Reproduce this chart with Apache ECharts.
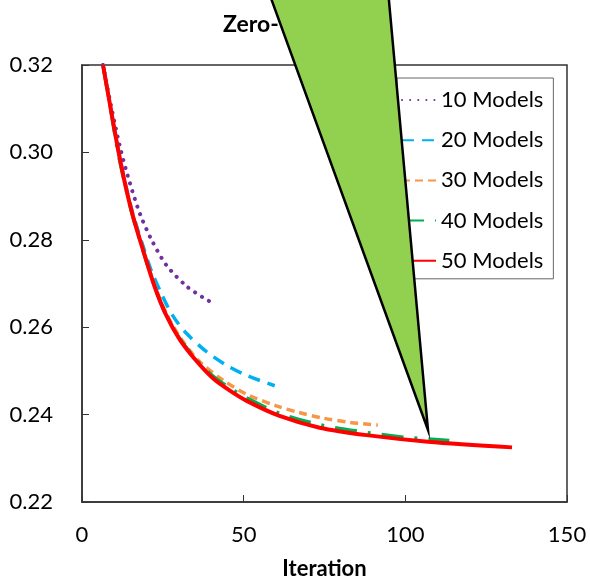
<!DOCTYPE html>
<html lang="en">
<head>
    <meta charset="UTF-8">
    <title>Zero-</title>
    <style>
        body{ margin: 0; }
    </style>
    <script src="https://cdn.jsdelivr.net/npm/echarts@6/dist/echarts.min.js"></script>
</head>
<body>
    <div id="main" style="width: 590px;height:580px;"></div>
    <script type="text/javascript">
        // values: [iteration, value]
        var models10 = [[6.5,0.320],[9.3,0.3095],[12,0.3005],[14.8,0.2930],[17.9,0.2860],[21.5,0.2800],[26.1,0.2742],[32.3,0.2694],[37.4,0.2668],[39.5,0.2659]];
        var models20 = [[6.5,0.320],[9,0.3095],[11.2,0.3005],[13.5,0.2925],[15.8,0.2858],[18.9,0.2785],[21.5,0.2728],[24.6,0.2676],[28,0.2627],[32.3,0.2586],[38.5,0.2544],[44.7,0.2513],[50.8,0.2490],[59.6,0.2466]];
        var models30 = [[6.5,0.320],[9,0.3095],[11.2,0.3005],[13.5,0.2922],[15.8,0.2853],[18.9,0.2777],[22.5,0.2695],[26,0.2633],[30.2,0.2578],[36.4,0.2521],[43.6,0.2479],[50.8,0.2447],[60.1,0.2420],[67,0.2405],[74.5,0.2392],[83,0.2382],[91.5,0.2376]];
        var models40 = [[6.5,0.320],[9,0.3093],[11,0.3005],[13.5,0.2920],[15.8,0.2851],[18.9,0.2775],[22.5,0.2692],[26,0.2628],[30.2,0.2574],[35,0.2529],[40.5,0.2488],[45.5,0.2462],[50.8,0.2439],[61.1,0.2403],[73.5,0.2377],[88,0.2359],[100,0.2348],[113.6,0.2341]];
        var models50 = [[6.5,0.320],[9,0.3095],[11.2,0.3005],[13.5,0.2922],[15.8,0.2853],[18.9,0.2776],[22.5,0.2692],[26,0.2628],[30.2,0.2572],[35,0.2526],[40.5,0.2483],[45.5,0.2456],[50.8,0.2432],[61.1,0.2397],[73.5,0.2370],[88,0.2353],[107,0.2338],[133,0.2325]];
        var seriesNames = ['10 Models', '20 Models', '30 Models', '40 Models', '50 Models'];

        var myChart = echarts.init(document.getElementById('main'));
        var font = 'Lato, "Noto Sans", sans-serif';

        function line(name, data, color, type, width, cap) {
            return {
                name: name,
                type: 'line',
                data: data,
                smooth: 0.3,
                symbol: 'none',
                clip: true,
                lineStyle: { color: color, type: type, width: width, cap: cap || 'butt' },
                itemStyle: { color: color }
            };
        }

        var option = {
            animation: false,
            title: {
                text: 'Zero-',
                left: 218,
                top: 8,
                textStyle: { fontFamily: font, fontSize: 23, fontWeight: 'bold', color: '#000' }
            },
            grid: {
                left: 82, right: 23, top: 65, bottom: 78,
                outerBoundsMode: 'none',
                show: true, borderColor: '#333', borderWidth: 1.5
            },
            legend: {
                orient: 'vertical',
                left: 397, top: 78,
                padding: [11, 10, 7, 4],
                itemWidth: 34, itemHeight: 18, itemGap: 18.2,
                backgroundColor: '#fff',
                borderColor: '#666', borderWidth: 1,
                itemStyle: { opacity: 0, borderWidth: 0 },
                data: seriesNames,
                textStyle: { fontFamily: font, fontSize: 22, color: '#000' }
            },
            xAxis: {
                type: 'value',
                min: 0, max: 150, interval: 50,
                name: 'Iteration',
                nameLocation: 'middle',
                nameGap: 56,
                nameTextStyle: { fontFamily: font, fontSize: 22, fontWeight: 'bold', color: '#000' },
                axisLine: { lineStyle: { color: '#333', width: 1.5 } },
                axisTick: { inside: true, length: 7, lineStyle: { color: '#333' } },
                axisLabel: { margin: 22, fontFamily: font, fontSize: 22, color: '#000' },
                splitLine: { show: false }
            },
            yAxis: {
                type: 'value',
                min: 0.22, max: 0.32, interval: 0.02,
                axisLine: { show: true, lineStyle: { color: '#333', width: 1.5 } },
                axisTick: { show: true, inside: true, length: 7, lineStyle: { color: '#333' } },
                axisLabel: {
                    margin: 29, fontFamily: font, fontSize: 22, color: '#000',
                    formatter: function (v) { return v.toFixed(2); }
                },
                splitLine: { show: false }
            },
            series: [
                line(seriesNames[0], models10, '#7030A0', [0.1, 8], 4, 'round'),
                line(seriesNames[1], models20, '#00B0F0', [12, 8], 3.5),
                line(seriesNames[2], models30, '#F79646', [8, 5], 3.5),
                line(seriesNames[3], models40, '#00B050', [22, 11, 3, 11], 3.5),
                line(seriesNames[4], models50, '#FF0000', 'solid', 4)
            ],
            graphic: [{
                type: 'polygon',
                z: 100,
                shape: { points: [[268, -10], [388, -10], [428, 430]] },
                style: { fill: '#92D050', stroke: '#000', lineWidth: 2.5 }
            }]
        };

        myChart.setOption(option);
    </script>
</body>
</html>
